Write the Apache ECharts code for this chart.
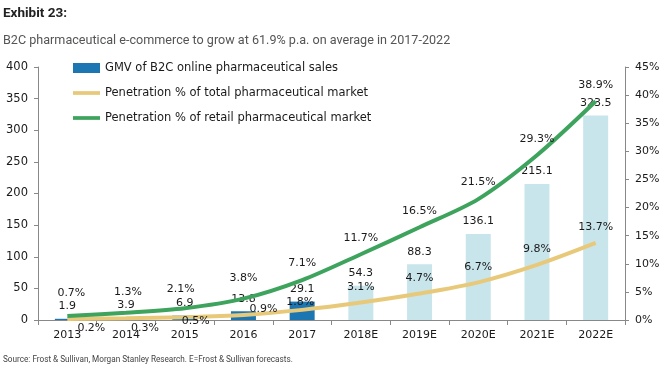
<!DOCTYPE html>
<html>
<head>
<meta charset="utf-8">
<script src="https://cdn.jsdelivr.net/npm/echarts@6/dist/echarts.min.js"></script>
<style>
html,body{margin:0;padding:0;background:#fff;}
#c{width:664px;height:385px;}
</style>
</head>
<body>
<div id="c"></div>
<script>
var categories = ['2013','2014','2015','2016','2017','2018E','2019E','2020E','2021E','2022E'];
var gmv = [1.9, 3.9, 6.9, 13.8, 29.1, 54.3, 88.3, 136.1, 215.1, 323.5];
var penTotal = [0.2, 0.3, 0.5, 0.9, 1.8, 3.1, 4.7, 6.7, 9.8, 13.7];
var penRetail = [0.7, 1.3, 2.1, 3.8, 7.1, 11.7, 16.5, 21.5, 29.3, 38.9];
var leftTicks = {min: 0, max: 400, interval: 50};
var rightTicks = {min: 0, max: 45, interval: 5};
var forecastStart = 5;

// label styling (offsets only, not data)
var totalLabelOffsets = [[24,-6],[19,-6],[11,-12],[20,10],[-2,8],[0,0],[0,0],[0,0],[0,0],[0,0]];
var totalLabelPos = ['bottom','bottom','bottom','top','top','top','top','top','top','top'];
var retailLabelOffsets = [[4,-6],[2,-4],[-4,-3],[0,-4],[0,0],[0,0],[0,0],[0,0],[0,0],[0,0]];

var FONT = 'DejaVu Sans';
var chart = echarts.init(document.getElementById('c'), null, {renderer:'canvas'});

var barData = gmv.map(function(v,i){
  return {value: v, itemStyle: {color: i < forecastStart ? '#1b76b2' : '#c9e5ec'}};
});
var totalData = penTotal.map(function(v,i){
  return {value: v, label: {position: totalLabelPos[i], offset: totalLabelOffsets[i]}};
});
var retailData = penRetail.map(function(v,i){
  return {value: v, label: {offset: retailLabelOffsets[i]}};
});

var labelText = {fontFamily: FONT, fontSize: 11, color: '#1a1a1a'};

chart.setOption({
  animation: false,
  backgroundColor: '#fff',
  title: [
    {text: 'Exhibit 23:', left: 3, top: 7, padding: 0, textStyle: {fontFamily: 'Roboto', fontWeight: 'bold', fontSize: 13.5, color: '#222'}},
    {text: 'B2C pharmaceutical e-commerce to grow at 61.9% p.a. on average in 2017-2022', left: 3, top: 34, padding: 0, textStyle: {fontFamily: 'Roboto', fontWeight: 'normal', fontSize: 12.6, color: '#555'}},
    {text: 'Source: Frost & Sullivan, Morgan Stanley Research. E=Frost & Sullivan forecasts.', left: 3, top: 356, padding: 0, textStyle: {fontFamily: 'Roboto', fontWeight: 'normal', fontSize: 8.2, color: '#444'}}
  ],
  legend: {
    orient: 'vertical', left: 68, top: 57, itemGap: 13, itemWidth: 27, itemHeight: 10,
    textStyle: {fontFamily: FONT, fontSize: 11.5, color: '#1a1a1a'},
    data: [
      {name: 'GMV of B2C online pharmaceutical sales', icon: 'rect', itemStyle: {color: '#1b76b2'}},
      {name: 'Penetration % of total pharmaceutical market', icon: 'path://M0,0L29,0L29,4L0,4Z', itemStyle: {color: '#e8c97a'}},
      {name: 'Penetration % of retail pharmaceutical market', icon: 'path://M0,0L29,0L29,4L0,4Z', itemStyle: {color: '#3da35d'}}
    ]
  },
  grid: {left: 38, right: 39, top: 67, bottom: 65},
  xAxis: {
    type: 'category', data: categories,
    axisLine: {lineStyle: {color: '#888'}},
    axisTick: {show: true, length: 5, alignWithLabel: false, lineStyle: {color: '#888'}},
    axisLabel: {fontFamily: FONT, fontSize: 11, color: '#1a1a1a', margin: 10}
  },
  yAxis: [
    {type: 'value', min: leftTicks.min, max: leftTicks.max, interval: leftTicks.interval,
     axisLine: {show: true, lineStyle: {color: '#888'}},
     axisTick: {show: true, length: 4, lineStyle: {color: '#888'}},
     splitLine: {show: false},
     axisLabel: {fontFamily: FONT, fontSize: 11.5, color: '#1a1a1a', margin: 10}},
    {type: 'value', min: rightTicks.min, max: rightTicks.max, interval: rightTicks.interval, position: 'right',
     axisLine: {show: true, lineStyle: {color: '#888'}},
     axisTick: {show: true, length: 4, lineStyle: {color: '#888'}},
     splitLine: {show: false},
     axisLabel: {fontFamily: FONT, fontSize: 11, color: '#1a1a1a', margin: 10, formatter: '{value}%'}}
  ],
  series: [
    {name: 'GMV of B2C online pharmaceutical sales', type: 'bar', yAxisIndex: 0, data: barData, barWidth: 25,
     itemStyle: {color: '#1b76b2'},
     label: Object.assign({show: true, position: 'top', distance: 7, formatter: function(p){return p.value.toFixed(1);}}, labelText), z: 2},
    {name: 'Penetration % of total pharmaceutical market', type: 'line', yAxisIndex: 1, data: totalData, smooth: 0.3,
     symbol: 'circle', symbolSize: 0.1, showSymbol: true, lineStyle: {color: '#e8c97a', width: 4}, itemStyle: {color: '#e8c97a'},
     label: Object.assign({show: true, position: 'top', distance: 10, formatter: function(p){return p.value.toFixed(1)+'%';}}, labelText), z: 3},
    {name: 'Penetration % of retail pharmaceutical market', type: 'line', yAxisIndex: 1, data: retailData, smooth: 0.3,
     symbol: 'circle', symbolSize: 0.1, showSymbol: true, lineStyle: {color: '#3da35d', width: 4}, itemStyle: {color: '#3da35d'},
     label: Object.assign({show: true, position: 'top', distance: 11, formatter: function(p){return p.value.toFixed(1)+'%';}}, labelText), z: 4}
  ]
});
</script>
</body>
</html>
